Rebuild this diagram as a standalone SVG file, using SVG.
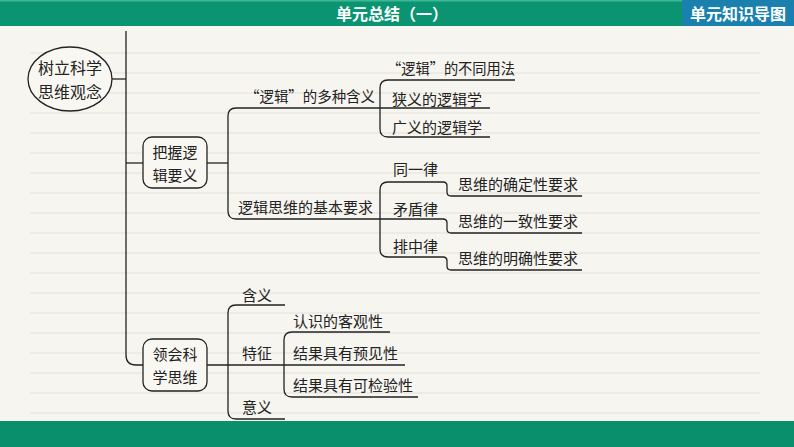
<svg xmlns="http://www.w3.org/2000/svg" width="794" height="447" viewBox="0 0 794 447">
<style>
.t{font-family:"Noto Sans CJK SC","Noto Sans",sans-serif;font-size:15px;fill:#222;dominant-baseline:central}
.h{font-family:"Noto Sans CJK SC","Noto Sans",sans-serif;font-size:16px;font-weight:bold;fill:#fff;dominant-baseline:central;text-anchor:middle}
.c{text-anchor:middle}
.ln{fill:none;stroke:#222;stroke-width:1.3}
.rule{stroke:#e4e1da;stroke-width:1}
.box{fill:#f9f7f2;stroke:#222;stroke-width:1.3}
</style>
<rect x="0" y="0" width="794" height="447" fill="#f7f5f0"/>
<g id="rules">
<line class="rule" x1="30" y1="53" x2="760" y2="53"/>
<line class="rule" x1="30" y1="73" x2="760" y2="73"/>
<line class="rule" x1="30" y1="93" x2="760" y2="93"/>
<line class="rule" x1="30" y1="113" x2="760" y2="113"/>
<line class="rule" x1="30" y1="133" x2="760" y2="133"/>
<line class="rule" x1="30" y1="153" x2="760" y2="153"/>
<line class="rule" x1="30" y1="173" x2="760" y2="173"/>
<line class="rule" x1="30" y1="193" x2="760" y2="193"/>
<line class="rule" x1="30" y1="213" x2="760" y2="213"/>
<line class="rule" x1="30" y1="233" x2="760" y2="233"/>
<line class="rule" x1="30" y1="253" x2="760" y2="253"/>
<line class="rule" x1="30" y1="273" x2="760" y2="273"/>
<line class="rule" x1="30" y1="293" x2="760" y2="293"/>
<line class="rule" x1="30" y1="313" x2="760" y2="313"/>
<line class="rule" x1="30" y1="333" x2="760" y2="333"/>
<line class="rule" x1="30" y1="353" x2="760" y2="353"/>
<line class="rule" x1="30" y1="373" x2="760" y2="373"/>
<line class="rule" x1="30" y1="393" x2="760" y2="393"/>
<line class="rule" x1="30" y1="413" x2="760" y2="413"/>
</g>
<g id="header">
<rect x="0" y="0" width="794" height="26" fill="#0a9472"/>
<rect x="0" y="0" width="794" height="1.5" fill="#3fb892"/>
<rect x="682" y="0" width="112" height="26" fill="#1a80ad"/>
<text class="h" x="392" y="13">单元总结（一）</text>
<text class="h" x="738" y="13">单元知识导图</text>
</g>
<rect id="footer" x="0" y="421" width="794" height="26" fill="#0a8f6d"/>
<g id="connectors">
<path class="ln" d="M126,31 V355 Q126,365 136,365 H143"/>
<path class="ln" d="M112,79 H126"/>
<path class="ln" d="M126,163 H143"/>
<path class="ln" d="M207,163 H228"/>
<path class="ln" d="M380,108 H236 Q228,108 228,116 V211 Q228,219 236,219 H380"/>
<path class="ln" d="M515,80 H388 Q380,80 380,88 V129 Q380,137 388,137 H490"/>
<path class="ln" d="M380,108 H490"/>
<path class="ln" d="M388,182 Q380,182 380,190 V249 Q380,257 388,257"/>
<path class="ln" d="M388,182 H443 Q447,182 447,186 V192 Q447,196 451,196 H582"/>
<path class="ln" d="M380,219 H443 Q447,219 447,223 V229 Q447,233 451,233 H582"/>
<path class="ln" d="M388,257 H443 Q447,257 447,261 V266 Q447,270 451,270 H582"/>
<path class="ln" d="M207,365 H284"/>
<path class="ln" d="M285,305 H236 Q228,305 228,313 V411 Q228,419 236,419 H285"/>
<path class="ln" d="M390,332 H292 Q284,332 284,340 V389 Q284,397 292,397 H418"/>
<path class="ln" d="M284,365 H405"/>
</g>
<g id="n-root">
<ellipse cx="70" cy="79" rx="42" ry="32" class="box"/>
<text class="t c" x="70" y="67" style="font-size:16px">树立科学</text>
<text class="t c" x="70" y="91" style="font-size:16px">思维观念</text>
</g>
<g id="n-grasp">
<rect x="143" y="137" width="64" height="51" rx="9" class="box"/>
<text class="t c" x="175" y="151">把握逻</text>
<text class="t c" x="175" y="174">辑要义</text>
</g>
<g id="n-meaning"><text class="t" x="245" y="95" textLength="130" lengthAdjust="spacingAndGlyphs">“逻辑”的多种含义</text></g>
<g id="n-usage"><text class="t" x="387" y="67" textLength="128" lengthAdjust="spacingAndGlyphs">“逻辑”的不同用法</text></g>
<g id="n-narrow"><text class="t" x="392" y="98">狭义的逻辑学</text></g>
<g id="n-broad"><text class="t" x="392" y="126">广义的逻辑学</text></g>
<g id="n-basic"><text class="t" x="238" y="206">逻辑思维的基本要求</text></g>
<g id="n-identity"><text class="t" x="393" y="168">同一律</text></g>
<g id="n-contra"><text class="t" x="393" y="208">矛盾律</text></g>
<g id="n-excl"><text class="t" x="393" y="245">排中律</text></g>
<g id="n-r1"><text class="t" x="458" y="183">思维的确定性要求</text></g>
<g id="n-r2"><text class="t" x="458" y="220">思维的一致性要求</text></g>
<g id="n-r3"><text class="t" x="458" y="257">思维的明确性要求</text></g>
<g id="n-sci">
<rect x="143" y="339" width="64" height="52" rx="9" class="box"/>
<text class="t c" x="175" y="353">领会科</text>
<text class="t c" x="175" y="376">学思维</text>
</g>
<g id="n-hanyi"><text class="t" x="242" y="294">含义</text></g>
<g id="n-tezheng"><text class="t" x="242" y="352">特征</text></g>
<g id="n-yiyi"><text class="t" x="242" y="406">意义</text></g>
<g id="n-f1"><text class="t" x="293" y="320">认识的客观性</text></g>
<g id="n-f2"><text class="t" x="293" y="352">结果具有预见性</text></g>
<g id="n-f3"><text class="t" x="293" y="384">结果具有可检验性</text></g>
</svg>
